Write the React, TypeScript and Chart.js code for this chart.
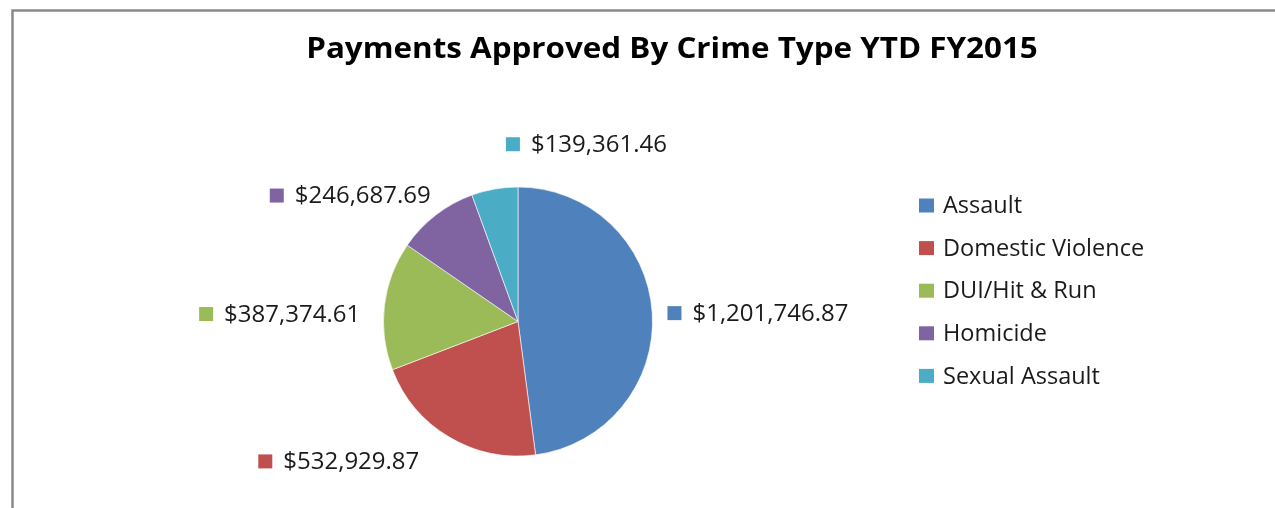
import React, { useEffect, useRef } from "react";
import { Chart, registerables } from "chart.js";

Chart.register(...registerables);

const categories = ["Assault", "Domestic Violence", "DUI/Hit & Run", "Homicide", "Sexual Assault"];
const payments = [1201746.87, 532929.87, 387374.61, 246687.69, 139361.46];
const sliceColors = ["#4F81BD", "#C0504D", "#9BBB59", "#8064A2", "#4BACC6"];
const titleText = "Payments Approved By Crime Type YTD FY2015";

const FONT = "'Open Sans', 'DejaVu Sans', sans-serif";

const fmt = (v: number) =>
  "$" + v.toLocaleString("en-US", { minimumFractionDigits: 2, maximumFractionDigits: 2 });

// label placement relative to each slice (angle clockwise from top in degrees, distance in radii)
const labelPlacement = [
  { angle: 86.8, dist: 1.113, align: "left" },
  { angle: 215.2, dist: 1.273, align: "right" },
  { angle: 272.7, dist: 1.175, align: "right" },
  { angle: 325.3, dist: 1.139, align: "right" },
  { angle: 356.1, dist: 1.321, align: "left" },
];

const decorPlugin = {
  id: "decor",
  beforeDraw(chart: any) {
    const ctx = chart.ctx;
    const W = chart.width;
    const H = chart.height;
    ctx.save();
    ctx.fillStyle = "#ffffff";
    ctx.fillRect(0, 0, W, H);
    ctx.strokeStyle = "#8a8a8a";
    ctx.lineWidth = 2.5;
    ctx.beginPath();
    ctx.moveTo(12.5, H);
    ctx.lineTo(12.5, 10.5);
    ctx.lineTo(W, 10.5);
    ctx.stroke();
    // title (slightly widened to match the reference's proportions)
    ctx.fillStyle = "#000000";
    ctx.font = `bold 28px ${FONT}`;
    ctx.textAlign = "center";
    ctx.textBaseline = "middle";
    ctx.translate(672, 50);
    ctx.scale(1.12, 1);
    ctx.fillText(titleText, 0, 0);
    ctx.restore();
  },
  afterDatasetsDraw(chart: any) {
    const ctx = chart.ctx;
    const meta = chart.getDatasetMeta(0);
    const ds = chart.data.datasets[0];
    ctx.save();
    ctx.font = `24px ${FONT}`;
    ctx.textBaseline = "middle";
    meta.data.forEach((arc: any, i: number) => {
      const p = labelPlacement[i];
      const a = (p.angle * Math.PI) / 180;
      const R = arc.outerRadius;
      const ax = arc.x + Math.sin(a) * R * p.dist;
      const ay = arc.y - Math.cos(a) * R * p.dist;
      const txt = fmt(ds.data[i]);
      const tw = ctx.measureText(txt).width;
      const boxW = 14 + 11 + tw;
      const left = p.align === "left" ? ax : ax - boxW;
      ctx.fillStyle = ds.backgroundColor[i];
      ctx.fillRect(left, ay - 7, 14, 14);
      ctx.fillStyle = "#1a1a1a";
      ctx.textAlign = "left";
      ctx.fillText(txt, left + 25, ay + 1);
    });
    // legend
    ctx.font = `23.5px ${FONT}`;
    chart.data.labels.forEach((lab: string, i: number) => {
      const y = 205.5 + i * 42.6;
      ctx.fillStyle = ds.backgroundColor[i];
      ctx.fillRect(919, y - 7, 15, 14);
      ctx.fillStyle = "#1a1a1a";
      ctx.textAlign = "left";
      ctx.fillText(lab, 943, y + 1);
    });
    ctx.restore();
  },
};

export default function App() {
  const ref = useRef<HTMLCanvasElement | null>(null);
  useEffect(() => {
    if (!ref.current) return;
    const chart = new Chart(ref.current, {
      type: "pie",
      data: {
        labels: categories,
        datasets: [
          {
            data: payments,
            backgroundColor: sliceColors,
            borderColor: "rgba(255,255,255,0.6)",
            borderWidth: 1,
          },
        ],
      },
      options: {
        responsive: false,
        animation: false,
        devicePixelRatio: 1,
        layout: { padding: { left: 383, right: 622, top: 186, bottom: 51 } },
        plugins: {
          legend: { display: false },
          title: { display: false },
          tooltip: { enabled: false },
        },
      },
      plugins: [decorPlugin],
    });
    return () => chart.destroy();
  }, []);
  return (
    <div style={{ position: "fixed", left: 0, top: 0, width: 1275, height: 508, background: "#fff" }}>
      <canvas ref={ref} width={1275} height={508} style={{ width: 1275, height: 508 }} />
    </div>
  );
}
